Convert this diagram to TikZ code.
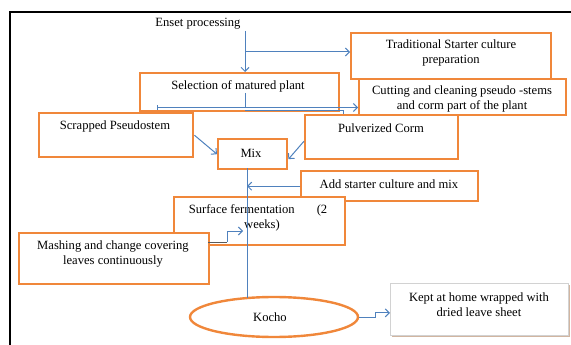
\documentclass[tikz,border=0pt]{standalone}
\usepackage{fontspec}
\setmainfont{Liberation Serif}
\usetikzlibrary{arrows.meta,shapes.geometric}
\definecolor{borange}{RGB}{240,135,58}
\definecolor{lblue}{RGB}{79,129,189}
\begin{document}
\begin{tikzpicture}[x=1pt,y=-1pt,
  obox/.style={draw=borange,line width=2.4pt,fill=white,anchor=north west,inner sep=0pt},
  txt/.style={font=\fontsize{12.6}{15}\selectfont,align=center,inner sep=0pt},
  arr/.style={draw=lblue,line width=1pt,-{Straight Barb[length=4pt,width=8pt]}},
  ln/.style={draw=lblue,line width=1pt}]
\useasboundingbox (0,0) rectangle (571,345);
% frame
\draw[line width=1.6pt] (10,345) -- (10,12) -- (571,12);
% boxes
\node[obox,minimum width=200pt,minimum height=46pt] (trad) at (350,32) {};
\node[obox,minimum width=199pt,minimum height=38pt] (sel) at (139,72) {};
\node[obox,minimum width=207pt,minimum height=36pt] (cut) at (358,78) {};
\node[obox,minimum width=154pt,minimum height=44pt] (scr) at (38,112) {};
\node[obox,minimum width=153pt,minimum height=44pt] (pul) at (304,114) {};
\node[obox,minimum width=69pt,minimum height=30pt] (mix) at (217,138) {};
\node[obox,minimum width=177pt,minimum height=30pt] (add) at (300,170) {};
\node[obox,minimum width=171pt,minimum height=48pt] (surf) at (173,196) {};
\node[obox,minimum width=190pt,minimum height=51pt] (mash) at (18,232) {};
\node[draw=borange,line width=2.4pt,fill=white,ellipse,minimum width=168pt,minimum height=40pt,inner sep=0pt] (kocho) at (274,317) {};
\fill[borange!45!gray!60] (392,285) rectangle (570,337);
\node[draw=gray!35,line width=0.8pt,fill=white,anchor=north west,inner sep=0pt,minimum width=178pt,minimum height=52pt] (kept) at (390,283) {};
% texts
\node[txt] (tenset) at (198,24) {Enset processing};
\node[txt] (ttrad) at (451,52.5) {Traditional Starter culture\\preparation};
\node[txt] (tsel) at (238,86) {Selection of matured plant};
\node[txt] (tcut) at (462,98.5) {Cutting and cleaning pseudo -stems\\and corm part of the plant};
\node[txt] (tscr) at (115,126) {Scrapped Pseudostem};
\node[txt] (tpul) at (381,128) {Pulverized Corm};
\node[txt] (tmix) at (251,153) {Mix};
\node[txt] (tadd) at (389,184) {Add starter culture and mix};
\node[txt] (tsurf) at (258,218) {Surface fermentation\hspace{22pt}(2\\\hspace{8pt}weeks)};
\node[txt] (tmash) at (113,254) {Mashing and change covering\\leaves continuously};
\node[txt] (tkocho) at (270,317) {Kocho};
\node[txt] (tkept) at (479,305) {Kept at home wrapped with\\dried leave sheet};
% connectors
\coordinate (e0) at (245,31);
\coordinate (e1) at (245,52);
\draw[arr] (e0) -- (e0 |- sel.north);
\draw[arr] (e1) -- (e1 -| trad.west);
\coordinate (s0) at (245,93);
\coordinate (s1) at (245,107.5);
\coordinate (sL) at (157,107.5);
\draw[ln] (s0) -- (s1);
\draw[ln,{Bar[width=5pt]}-] (sL) -- (s1);
\draw[arr] (s1) -- (s1 -| cut.west);
\coordinate (p0) at (245,110.5);
\coordinate (p1) at (343,110.5);
\draw[ln] (p0) -- (p1) -- (p1 |- pul.north);
\draw[arr] (scr.east) -- (mix.west);
\draw[arr] ([yshift=-4pt]pul.west) -- ([yshift=-5pt]mix.east);
\coordinate (m0) at (247,168);
\coordinate (m1) at (247,298);
\draw[ln] (m0) -- (m1);
\draw[arr] (add.west) -- (add.west -| m0);
\coordinate (ma) at (208,242);
\coordinate (mb) at (227,242);
\coordinate (mc) at (227,231);
\coordinate (md) at (243,231);
\draw[draw=gray!70!black,line width=0.9pt] (ma) -- (mb);
\draw[arr] (mb) -- (mc) -- (md);
\coordinate (k1) at (375,317);
\draw[arr] (kocho.east) -- (k1) |- ([yshift=-3.5pt]kept.west);
\end{tikzpicture}
\end{document}
